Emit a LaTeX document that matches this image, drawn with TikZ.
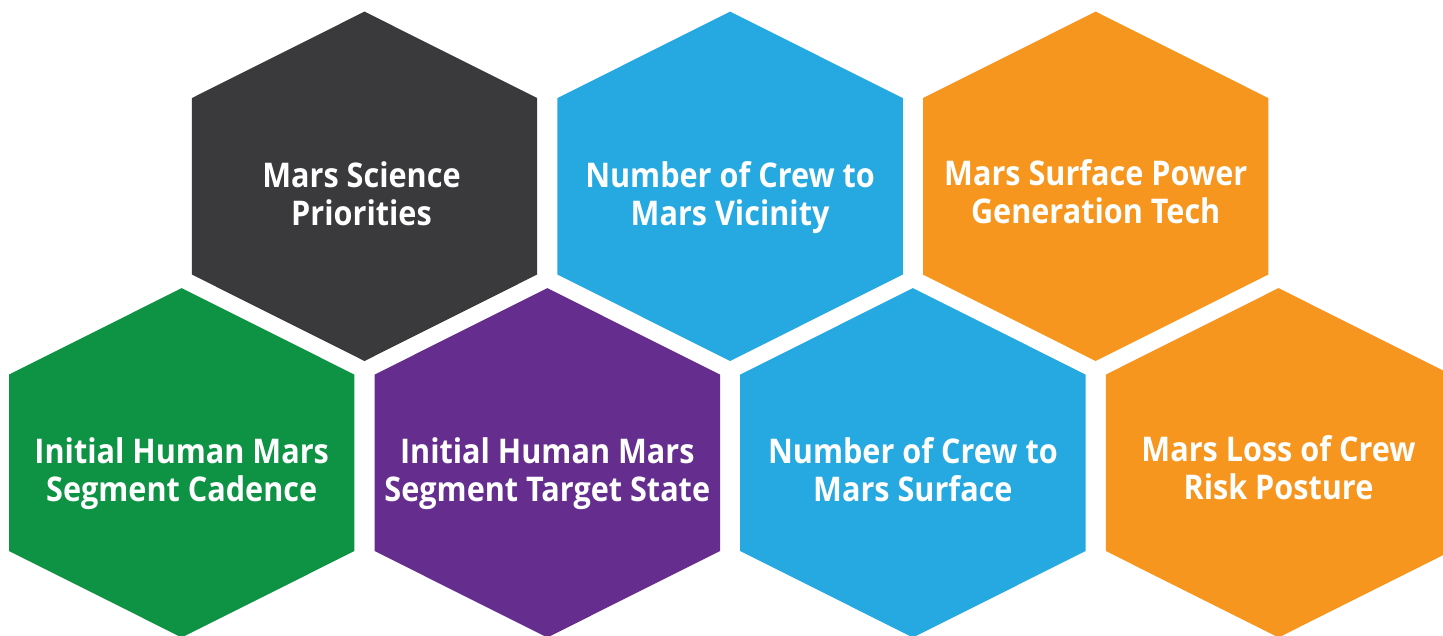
\documentclass[tikz,border=0pt]{standalone}
\usepackage{fontspec}
\setmainfont{Open Sans}[BoldFeatures={FakeStretch=0.9}]
\definecolor{hexdark}{HTML}{3A3A3C}
\definecolor{hexblue}{HTML}{25A9E0}
\definecolor{hexorange}{HTML}{F7961F}
\definecolor{hexgreen}{HTML}{0E9345}
\definecolor{hexpurple}{HTML}{652D8E}
\tikzset{
  hexlabel/.style={text=white, font=\bfseries\fontsize{34}{38}\selectfont, align=center, inner sep=0pt, anchor=base},
}
\newcommand{\hexagon}[4]{% cx, cy, colour, name
  \fill[#3] (#1,#2-174.7) -- (#1+172.7,#2-88.2) -- (#1+172.7,#2+88.2) -- (#1,#2+174.7)
    -- (#1-172.7,#2+88.2) -- (#1-172.7,#2-88.2) -- cycle;
  \coordinate (#4) at (#1,#2);
}
\begin{document}
\begin{tikzpicture}[x=1pt,y=-1pt]
\useasboundingbox (0,0) rectangle (1443,635);
\clip (0,0) rectangle (1443,635);
% top row
\hexagon{364.5}{186.3}{hexdark}{h1}
\hexagon{730.1}{186.3}{hexblue}{h2}
\hexagon{1095.7}{186.3}{hexorange}{h3}
% bottom row
\hexagon{181.7}{462.8}{hexgreen}{h4}
\hexagon{547.3}{462.8}{hexpurple}{h5}
\hexagon{912.9}{462.8}{hexblue}{h6}
\hexagon{1278.5}{462.8}{hexorange}{h7}
\node[hexlabel] (t1) at ([xshift=-3pt,yshift=-39.4pt]h1) {Mars Science\\Priorities};
\node[hexlabel] (t2) at ([yshift=-39.4pt]h2) {Number of Crew to\\Mars Vicinity};
\node[hexlabel] (t3) at ([yshift=-37pt]h3) {Mars Surface Power\\Generation Tech};
\node[hexlabel] (t4) at ([yshift=-39pt]h4) {Initial Human Mars\\Segment Cadence};
\node[hexlabel] (t5) at ([yshift=-39pt]h5) {Initial Human Mars\\Segment Target State};
\node[hexlabel] (t6) at ([yshift=-39pt]h6) {Number of Crew to\\Mars Surface};
\node[hexlabel] (t7) at ([yshift=-37pt]h7) {Mars Loss of Crew\\Risk Posture};
\end{tikzpicture}
\end{document}
